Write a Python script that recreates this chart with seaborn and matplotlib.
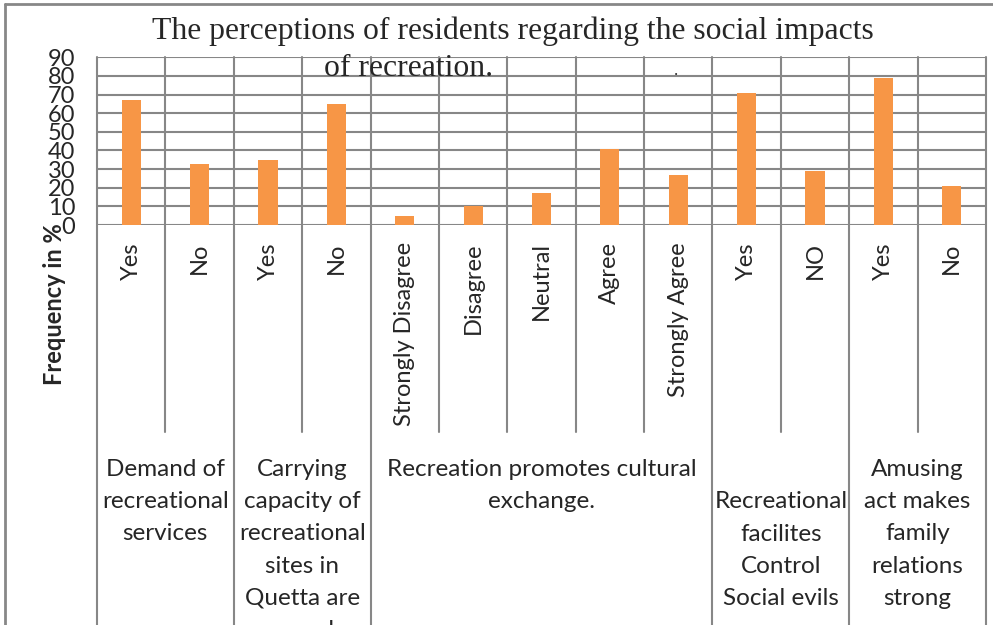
import pandas as pd
import matplotlib
matplotlib.use("Agg")
import matplotlib.pyplot as plt
import matplotlib.transforms as mtransforms
from matplotlib.lines import Line2D
import seaborn as sns

sns.set_style("white")
plt.rcParams['font.family'] = ['Lato', 'DejaVu Sans']

# dados
respostas = ['Yes', 'No', 'Yes', 'No', 'Strongly Disagree', 'Disagree', 'Neutral',
             'Agree', 'Strongly Agree', 'Yes', 'NO', 'Yes', 'No']
frequencia = [67, 33, 35, 65, 5, 10, 17, 41, 27, 71, 29, 79, 21]
grupos = ['Demand of\nrecreational\nservices',
          'Carrying\ncapacity of\nrecreational\nsites in\nQuetta are\nenough',
          'Recreation promotes cultural\nexchange.',
          'Recreational\nfacilites\nControl\nSocial evils',
          'Amusing\nact makes\nfamily\nrelations\nstrong']
tamanho_grupos = [2, 2, 5, 2, 2]
y_ticks = [0, 10, 20, 30, 40, 50, 60, 70, 80, 90]

df = pd.DataFrame({'pos': range(len(respostas)), 'freq': frequencia})

W, H = 993, 625
cinza = '#878787'
laranja = '#F79646'

fig = plt.figure(figsize=(W / 100, H / 100), dpi=100)
ax = fig.add_axes([97 / W, 1 - 225 / H, (986 - 97) / W, (225 - 57.3) / H])

sns.barplot(data=df, x='pos', y='freq', color=laranja, width=0.28, ax=ax,
            saturation=1, edgecolor='none')

n = len(respostas)
ax.set_xlim(-0.5, n - 0.5)
ax.set_ylim(0, 90)
ax.set_yticks(y_ticks)
ax.set_yticklabels([str(v) for v in y_ticks], fontsize=17)
ax.set_xticks(range(n))
ax.set_xticklabels(respostas, rotation=90, fontsize=17, va='top')
ax.tick_params(axis='x', length=0, pad=12.5)
ax.tick_params(axis='y', length=6.5, width=1.5, color=cinza, pad=9)
ax.set_xlabel('')
ax.set_ylabel('')
for s in ax.spines.values():
    s.set_visible(False)

# grade horizontal
for v in y_ticks:
    ax.axhline(v, color=cinza, lw=1.5, zorder=0)

# linhas verticais (categorias e grupos)
trans = mtransforms.blended_transform_factory(ax.transData, ax.transAxes)
y_inner = -(432 - 225) / (225 - 57.3)
y_bottom = -(640 - 225) / (225 - 57.3)
limites = [-0.5]
for t in tamanho_grupos:
    limites.append(limites[-1] + t)
for i in range(n + 1):
    x = i - 0.5
    y0 = y_bottom if x in limites else y_inner
    ax.add_line(Line2D([x, x], [y0, 1], transform=trans, color=cinza, lw=1.5,
                       clip_on=False, zorder=0))

# rótulos dos grupos
trans_g = mtransforms.blended_transform_factory(ax.transData, fig.transFigure)
desloc = [0, 0, 0, 1, 0]
inicio = -0.5
for g, t, d in zip(grupos, tamanho_grupos, desloc):
    cx = inicio + t / 2
    ax.text(cx, 1 - (459 + d * 32.5) / H, g, transform=trans_g, ha='center', va='top',
            fontsize=17.5, linespacing=1.66, clip_on=False)
    inicio += t

# título e eixo y
fig.text(0.5 + 16 / W, 1 - 31 / H, 'The perceptions of residents regarding the social impacts',
         ha='center', va='center', fontsize=22.8, family='Liberation Serif')
fig.text(409 / W, 1 - 68 / H, 'of recreation.', ha='center', va='center', fontsize=22.8,
         family='Liberation Serif')
fig.text(676 / W, 1 - 71 / H, '.', ha='center', va='center', fontsize=12,
         family='Liberation Serif')
fig.text(55 / W, 1 - 304 / H, 'Frequency in %', rotation=90, ha='center', va='center',
         fontsize=17, fontweight='bold')

# moldura externa
fig.add_artist(Line2D([5 / W, 1], [1 - 4 / H, 1 - 4 / H], transform=fig.transFigure,
                      color=cinza, lw=2))
fig.add_artist(Line2D([5 / W, 5 / W], [1 - 4 / H, 0], transform=fig.transFigure,
                      color=cinza, lw=2))

plt.savefig('out.png', dpi=100)
